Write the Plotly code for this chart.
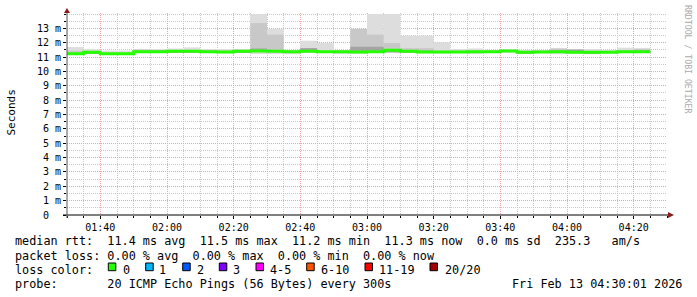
import plotly.graph_objects as go
import pandas as pd

# ---------------- data ----------------
START = "2026-02-13 01:30:00"
END = "2026-02-13 04:30:00"
STEP = "5min"

median_ms = [11.24, 11.33, 11.23, 11.23, 11.38, 11.38, 11.40, 11.40, 11.38, 11.35,
             11.40, 11.42, 11.40, 11.38, 11.40, 11.38, 11.38, 11.36, 11.37, 11.47,
             11.40, 11.35, 11.35, 11.36, 11.37, 11.38, 11.42, 11.33, 11.36, 11.38,
             11.33, 11.33, 11.34, 11.37, 11.37]
ping_min_ms = [11.15, 11.22, 11.15, 11.15, 11.30, 11.30, 11.30, 11.30, 11.30, 11.27,
               11.30, 11.22, 11.22, 11.20, 11.30, 11.30, 11.22, 11.22, 11.30, 11.30,
               11.30, 11.27, 11.25, 11.28, 11.22, 11.30, 11.30, 11.25, 11.28, 11.20,
               11.25, 11.20, 11.25, 11.28, 11.28]
ping_max_ms = [11.70, 11.55, 11.45, 11.45, 11.55, 11.55, 11.60, 11.68, 11.55, 11.55,
               11.55, 14.00, 12.97, 11.50, 12.14, 11.98, 11.50, 12.97, 14.00, 14.00,
               12.49, 12.49, 12.03, 11.57, 11.60, 11.50, 11.55, 11.50, 11.50, 11.62,
               11.55, 11.55, 11.50, 11.66, 11.62]
mid_hi_ms = [11.45, 11.40, 11.30, 11.30, 11.52, 11.50, 11.45, 11.45, 11.50, 11.45,
             11.50, 13.37, 12.56, 11.45, 11.50, 11.45, 11.42, 12.97, 12.56, 11.98,
             11.62, 11.62, 11.45, 11.45, 11.45, 11.45, 11.50, 11.42, 11.45, 11.60,
             11.52, 11.45, 11.42, 11.50, 11.58]
inner_hi_ms = [11.30, 11.38, 11.28, 11.28, 11.45, 11.45, 11.45, 11.45, 11.45, 11.40,
               11.45, 11.60, 11.50, 11.43, 11.63, 11.43, 11.43, 11.72, 11.72, 11.52,
               11.48, 11.45, 11.40, 11.41, 11.42, 11.43, 11.47, 11.38, 11.41, 11.47,
               11.52, 11.38, 11.39, 11.42, 11.45]
inner_lo_ms = [11.20, 11.28, 11.18, 11.18, 11.33, 11.33, 11.35, 11.35, 11.33, 11.30,
               11.35, 11.37, 11.35, 11.33, 11.35, 11.33, 11.33, 11.31, 11.32, 11.33,
               11.35, 11.30, 11.30, 11.31, 11.32, 11.33, 11.37, 11.28, 11.31, 11.33,
               11.28, 11.28, 11.29, 11.32, 11.32]

y_tick_values = list(range(0, 14))
y_tick_labels = ["0\u00a0\u00a0"] + [f"{v} m" for v in range(1, 14)]

loss_labels = ["0", "1", "2", "3", "4-5", "6-10", "11-19", "20/20"]
loss_colors = ["#26ff00", "#00b8ff", "#0059ff", "#7e00ff", "#ff00ff", "#ff5500", "#ff0000", "#a10000"]

line1 = "median rtt:  11.4 ms avg  11.5 ms max  11.2 ms min  11.3 ms now  0.0 ms sd  235.3   am/s"
line2 = "packet loss: 0.00 % avg  0.00 % max  0.00 % min  0.00 % now"
line3 = "loss color:"
line4 = "probe:       20 ICMP Echo Pings (56 Bytes) every 300s"
stamp = "Fri Feb 13 04:30:01 2026"
watermark = "RRDTOOL / TOBI OETIKER"

# ---------------- geometry ----------------
W, H = 697, 297
L, R, T, B = 67, 30, 13, 82
PW, PH = W - L - R, H - T - B
PX_PER_MS = 14.354
YMAX = PH / PX_PER_MS


def px(x):
    return (x - L) / PW


def py(y):
    return (H - B - y) / PH


def nb(s):
    return s.replace(" ", "\u00a0")


MONO = "DejaVu Sans Mono"

starts = pd.date_range(START, periods=len(median_ms), freq=STEP)
step_td = pd.Timedelta(STEP)
centers = starts + step_td / 2
step_ms = step_td.total_seconds() * 1000

fig = go.Figure()


def band(lo, hi, color):
    fig.add_trace(go.Bar(
        x=centers, base=lo, y=[h - l for l, h in zip(lo, hi)], width=step_ms,
        marker=dict(color=color, line=dict(width=0)), hoverinfo="skip",
        showlegend=False))


band(ping_min_ms, ping_max_ms, "#dddddd")
band(inner_lo_ms, mid_hi_ms, "#c8c8c8")
band(inner_lo_ms, inner_hi_ms, "#a4a4a4")

fig.add_trace(go.Scatter(
    x=list(starts) + [starts[-1] + step_td], y=median_ms + [median_ms[-1]],
    mode="lines", line=dict(color=loss_colors[0], width=3, shape="hv"),
    hoverinfo="skip", showlegend=False))

MAJOR = "#eaa3a3"
MINOR = "#c9c9c9"

fig.update_layout(
    width=W, height=H, margin=dict(l=L, r=R, t=T, b=B, pad=0),
    paper_bgcolor="#ffffff", plot_bgcolor="#ffffff", barmode="overlay",
    showlegend=False,
    xaxis=dict(
        type="date", range=[START, END], tickformat="%H:%M", dtick=1200000,
        tick0="2026-02-13 00:00:00", showgrid=True, gridcolor=MAJOR,
        griddash="1px,1px", gridwidth=1, ticks="outside", ticklen=3,
        tickcolor="#000", tickfont=dict(family=MONO, size=10, color="#000"),
        minor=dict(dtick=300000, showgrid=True, gridcolor=MINOR,
                   griddash="1px,1px", ticks="outside", ticklen=2, tickcolor="#000"),
        showline=False, zeroline=False, fixedrange=True),
    yaxis=dict(
        range=[0, YMAX], tickmode="array", tickvals=y_tick_values,
        ticktext=y_tick_labels, showgrid=True, gridcolor=MAJOR,
        griddash="1px,1px", ticks="outside", ticklen=3, tickcolor="#000",
        tickfont=dict(family=MONO, size=10, color="#000"),
        minor=dict(dtick=0.5, showgrid=True, gridcolor=MINOR,
                   griddash="1px,1px", ticks="outside", ticklen=2, tickcolor="#000"),
        showline=False, zeroline=False, fixedrange=True),
)

shapes = []
# axes
shapes.append(dict(type="line", xref="paper", yref="paper", x0=px(63), x1=px(669),
                   y0=py(215), y1=py(215), line=dict(color="#000000", width=1), layer="above"))
shapes.append(dict(type="line", xref="paper", yref="paper", x0=px(67), x1=px(67),
                   y0=py(218), y1=py(11), line=dict(color="#555555", width=1), layer="above"))
# arrows
shapes.append(dict(type="path", xref="paper", yref="paper",
                   path=f"M {px(668)},{py(212)} L {px(674)},{py(215)} L {px(668)},{py(218)} Z",
                   fillcolor="#8e1b1b", line=dict(width=0), layer="above"))
shapes.append(dict(type="path", xref="paper", yref="paper",
                   path=f"M {px(64)},{py(13)} L {px(67)},{py(8)} L {px(70)},{py(13)} Z",
                   fillcolor="#8e1b1b", line=dict(width=0), layer="above"))

# legend boxes
box_left = [108.3, 145.7, 182.7, 219.3, 256.0, 306.7, 365.0, 430.0]
label_left = [122.5, 159.3, 196.5, 233.3, 270.3, 320.8, 379.2, 444.8]
for bx, col in zip(box_left, loss_colors):
    shapes.append(dict(type="rect", xref="paper", yref="paper",
                       x0=px(bx), x1=px(bx + 7.5), y0=py(270.7), y1=py(263),
                       fillcolor=col, line=dict(color="#000000", width=1), layer="above"))
fig.update_layout(shapes=shapes)

ann = []
TXT = dict(family=MONO, size=11.8, color="#000000")


def text(x, y, s, xanchor="left", font=TXT, angle=0):
    ann.append(dict(xref="paper", yref="paper", x=px(x), y=py(y), text=nb(s),
                    showarrow=False, xanchor=xanchor, yanchor="middle",
                    font=font, borderpad=0, borderwidth=0, textangle=angle))


text(15.2, 241.5, line1)
text(15.2, 255.5, line2)
text(15.2, 269.5, line3)
text(15.2, 283.5, line4)
text(681.5, 283.5, stamp, xanchor="right")
for lx, lab in zip(label_left, loss_labels):
    text(lx, 269.5, lab)

text(10.5, 113, "Seconds", xanchor="center", font=dict(family=MONO, size=11, color="#000"), angle=-90)
text(688, 59, watermark, xanchor="center", font=dict(family=MONO, size=8.2, color="#aaaaaa"), angle=90)
fig.update_layout(annotations=ann)

fig.write_html("out.html")
